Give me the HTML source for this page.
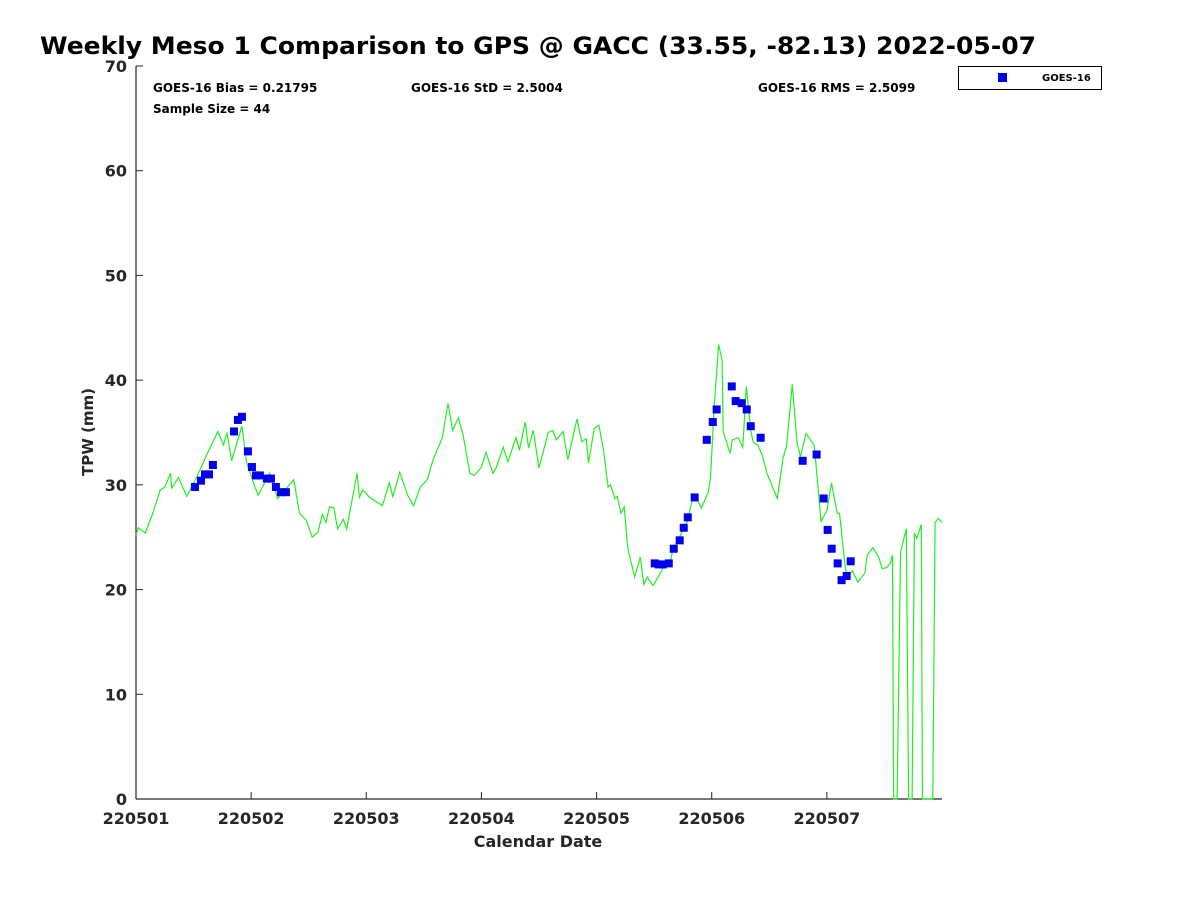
<!DOCTYPE html>
<html><head><meta charset="utf-8"><style>body{margin:0;background:#fff}svg{display:block;font-family:"DejaVu Sans","Liberation Sans",sans-serif}</style></head>
<body>
<svg id="chart" width="1200" height="900" viewBox="0 0 1200 900">
<text x="40" y="54" font-size="24" font-weight="bold" fill="#000" textLength="996" lengthAdjust="spacingAndGlyphs">Weekly Meso 1 Comparison to GPS @ GACC (33.55, -82.13) 2022-05-07</text>
<g id="axes"></g>
<g id="series"></g>
<text x="153" y="92" font-size="12" font-weight="bold">GOES-16 Bias = 0.21795</text>
<text x="411" y="92" font-size="12" font-weight="bold">GOES-16 StD = 2.5004</text>
<text x="758" y="92" font-size="12" font-weight="bold">GOES-16 RMS = 2.5099</text>
<text x="153" y="113" font-size="12" font-weight="bold">Sample Size = 44</text>
<g>
<rect x="958.5" y="66.5" width="143" height="23" fill="#fff" stroke="#000" stroke-width="1"/>
<rect x="998" y="73" width="9" height="9" fill="#0000ee"/>
<text x="1042" y="81" font-size="10" font-weight="bold">GOES-16</text>
</g>
<text x="538" y="847" font-size="16" font-weight="bold" text-anchor="middle" fill="#262626">Calendar Date</text>
<text transform="translate(93,432) rotate(-90)" font-size="15" font-weight="bold" text-anchor="middle" fill="#262626">TPW (mm)</text>
</svg>
<script>
const xTickLabels=["220501","220502","220503","220504","220505","220506","220507"];
const yTicks=[0,10,20,30,40,50,60,70];
const gpsTime=[0,0.02,0.08,0.14,0.21,0.25,0.30,0.31,0.37,0.44,0.53,0.64,0.71,0.76,0.79,0.83,0.92,0.96,1.02,1.06,1.16,1.23,1.31,1.37,1.42,1.48,1.53,1.58,1.62,1.65,1.68,1.72,1.75,1.80,1.83,1.92,1.94,1.97,2.03,2.10,2.14,2.20,2.23,2.29,2.36,2.41,2.47,2.53,2.58,2.66,2.71,2.75,2.80,2.84,2.90,2.94,3.00,3.04,3.10,3.13,3.19,3.23,3.30,3.33,3.38,3.41,3.45,3.50,3.58,3.62,3.65,3.71,3.75,3.83,3.87,3.91,3.93,3.98,4.02,4.06,4.10,4.12,4.16,4.18,4.21,4.24,4.27,4.33,4.38,4.41,4.44,4.49,4.53,4.59,4.64,4.66,4.72,4.79,4.84,4.87,4.91,4.97,4.99,5.02,5.06,5.09,5.10,5.16,5.18,5.23,5.27,5.30,5.34,5.36,5.40,5.44,5.48,5.57,5.62,5.65,5.70,5.74,5.77,5.79,5.82,5.89,5.95,6.00,6.04,6.09,6.11,6.16,6.18,6.22,6.27,6.33,6.35,6.40,6.45,6.48,6.52,6.55,6.57,6.58,6.61,6.64,6.69,6.71,6.74,6.76,6.78,6.82,6.83,6.92,6.94,6.97,7.0];
const gpsTPW=[25.2,25.9,25.4,27.1,29.5,29.8,31.1,29.7,30.7,28.9,30.8,33.5,35.1,33.8,35.0,32.3,35.6,32.2,30.2,29.0,31.1,28.7,29.7,30.5,27.3,26.6,25.0,25.5,27.2,26.4,27.9,27.8,25.8,26.7,25.8,31.1,28.8,29.5,28.8,28.3,28.0,30.2,28.9,31.2,29.0,28.0,29.8,30.5,32.4,34.5,37.8,35.2,36.4,34.8,31.1,30.9,31.7,33.1,31.1,31.7,33.6,32.2,34.5,33.3,36.0,33.5,35.2,31.6,35.0,35.2,34.3,35.1,32.4,36.3,34.1,34.4,32.1,35.4,35.7,33.3,29.8,30.0,28.7,28.9,27.3,27.9,24.0,21.2,23.1,20.5,21.2,20.4,21.1,22.3,22.5,23.8,25.0,26.6,29.0,28.7,27.8,29.3,30.8,37.2,43.4,41.9,35.1,33.0,34.3,34.5,33.6,39.4,35.1,34.1,33.8,32.8,31.1,28.7,32.6,33.7,39.6,34.1,32.7,33.6,34.9,33.8,26.5,27.6,30.2,27.3,27.3,22.1,21.2,21.8,20.7,21.6,23.3,24.0,23.1,22.0,22.1,22.5,23.3,0,0,23.5,25.8,0,0,25.4,24.9,26.2,0,0,26.4,26.8,26.4];
const goesTime=[0.512,0.564,0.599,0.634,0.668,0.851,0.885,0.920,0.972,1.007,1.042,1.076,1.137,1.172,1.215,1.259,1.302,4.505,4.540,4.575,4.627,4.670,4.722,4.757,4.792,4.852,4.957,5.009,5.043,5.174,5.208,5.260,5.304,5.339,5.425,5.790,5.911,5.972,6.007,6.042,6.094,6.128,6.172,6.207];
const goesTPW=[29.8,30.4,31.0,31.0,31.9,35.1,36.2,36.5,33.2,31.7,30.9,30.9,30.6,30.6,29.8,29.3,29.3,22.5,22.4,22.4,22.5,23.9,24.7,25.9,26.9,28.8,34.3,36.0,37.2,39.4,38.0,37.8,37.2,35.6,34.5,32.3,32.9,28.7,25.7,23.9,22.5,20.9,21.3,22.7];

const NS="http://www.w3.org/2000/svg";
const L=136,R=942,T=66,B=799,XMAX=7,YMAX=70;
const xs=t=>L+t/XMAX*(R-L);
const ys=v=>B-v/YMAX*(B-T);
function mk(tag,attrs,parent){const e=document.createElementNS(NS,tag);for(const k in attrs)e.setAttribute(k,attrs[k]);parent.appendChild(e);return e;}
const ax=document.getElementById('axes'),se=document.getElementById('series');
let e=mk('line',{x1:L,y1:T,x2:L,y2:B,stroke:'#262626','stroke-width':1.2},ax);


e=mk('line',{x1:L,y1:B,x2:R,y2:B,stroke:'#262626','stroke-width':1.2},ax);


yTicks.forEach(v=>{
  const y=ys(v);
  mk('line',{x1:L,y1:y,x2:L+7,y2:y,stroke:'#262626'},ax);
  const t=mk('text',{x:L-9,y:y+6,'font-size':16,'font-weight':'bold','text-anchor':'end',fill:'#262626'},ax);
  t.textContent=v;
  
  
});
xTickLabels.forEach((s,i)=>{
  const x=xs(i);
  mk('line',{x1:x,y1:B,x2:x,y2:B-7,stroke:'#262626'},ax);
  const t=mk('text',{x:x,y:B+25,'font-size':16,'font-weight':'bold','text-anchor':'middle',fill:'#262626'},ax);
  t.textContent=s;
  
  
});
const pts=gpsTime.map((t,i)=>xs(t).toFixed(1)+','+ys(gpsTPW[i]).toFixed(1)).join(' ');
e=mk('polyline',{points:pts,fill:'none',stroke:'#22ee22','stroke-width':1.2},se);


goesTime.forEach((t,i)=>{
  const r=mk('rect',{x:xs(t)-4,y:ys(goesTPW[i])-4,width:8,height:8,fill:'#0000ee'},se);
  
  
});
</script>
</body></html>
